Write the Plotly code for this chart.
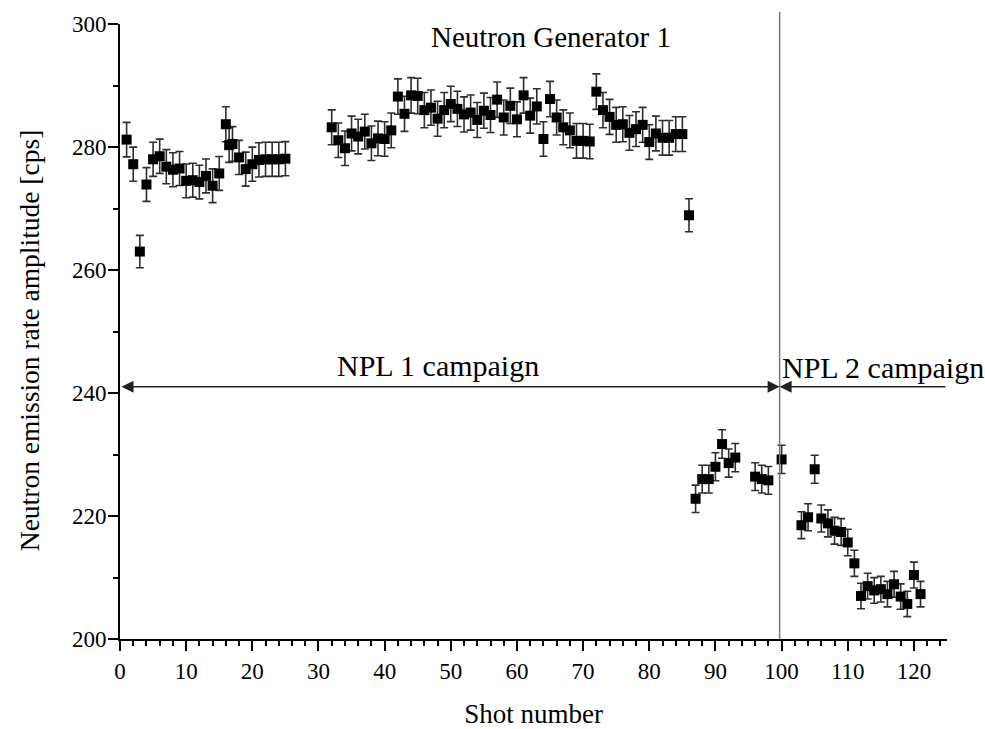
import plotly.graph_objects as go

# Shot numbers and measured amplitudes (cps)
shots = [1, 2, 3, 4, 5, 6, 7, 8, 9, 10, 11, 12, 13, 14, 15, 16, 16.5, 17, 18, 19, 20,
         21, 22, 23, 24, 25,
         32, 33, 34, 35, 36, 37, 38, 39, 40, 41, 42, 43, 44, 45, 46, 47, 48, 49, 50,
         51, 52, 53, 54, 55, 56, 57, 58, 59, 60, 61, 62, 63, 64, 65, 66, 67, 68, 69, 70,
         71, 72, 73, 74, 75, 76, 77, 78, 79, 80, 81, 82, 83, 84, 85, 86,
         87, 88, 89, 90, 91, 92, 93, 96, 97, 98, 100,
         103, 104, 105, 106, 107, 108, 109, 110, 111, 112, 113, 114, 115, 116, 117, 118,
         119, 120, 121]
amplitude = [281.2, 277.2, 263.0, 273.9, 278.0, 278.5, 276.8, 276.3, 276.5, 274.5, 274.6,
             274.3, 275.3, 273.7, 275.7, 283.7, 280.3, 280.5, 278.3, 276.4, 277.2,
             277.9, 278.0, 278.0, 278.0, 278.1,
             283.2, 281.1, 279.8, 282.2, 281.7, 282.5, 280.6, 281.4, 281.3, 282.7, 288.2,
             285.4, 288.4, 288.3, 286.0, 286.4, 284.6, 286.0, 287.0,
             286.2, 285.3, 285.6, 284.4, 285.9, 285.2, 287.7, 284.8, 286.7, 284.5, 288.4,
             285.1, 286.6, 281.3, 287.8, 284.8, 283.2, 282.7, 281.0, 281.0,
             280.9, 289.0, 286.0, 284.9, 283.6, 283.7, 282.3, 282.9, 283.6, 280.8, 282.2,
             281.5, 281.5, 282.1, 282.1, 268.9,
             222.8, 226.0, 226.0, 228.0, 231.7, 228.6, 229.5, 226.4, 226.0, 225.8, 229.2,
             218.5, 219.8, 227.6, 219.6, 218.8, 217.6, 217.4, 215.7, 212.3, 207.0, 208.6,
             207.9, 208.1, 207.3, 208.9, 206.9, 205.7, 210.4, 207.3]
error_percent = 1.0

campaign_boundary = 99.7
x_range = [0, 125]
y_range = [200, 300]
arrow_y = 241

title_text = "Neutron Generator 1"
npl1_text = "NPL 1 campaign"
npl2_text = "NPL 2 campaign"
x_title = "Shot number"
y_title = "Neutron emission rate amplitude [cps]"

FONT = "Liberation Serif, Times New Roman, serif"

fig = go.Figure()
fig.add_trace(go.Scatter(
    x=shots, y=amplitude, mode="markers",
    marker=dict(symbol="square", size=10, color="black"),
    error_y=dict(type="percent", value=error_percent, color="#2e2e2e",
                 thickness=1.6, width=4),
    showlegend=False, cliponaxis=False,
))

fig.add_shape(type="line", xref="x", yref="paper",
              x0=campaign_boundary, x1=campaign_boundary, y0=0, y1=1.02,
              line=dict(color="#7a7a7a", width=1.5))

# arrows
fig.add_annotation(x=campaign_boundary, y=arrow_y, ax=x_range[0], ay=arrow_y,
                   xref="x", yref="y", axref="x", ayref="y", text="",
                   showarrow=True, arrowhead=2, arrowside="end+start",
                   arrowsize=1.6, arrowwidth=1.5, arrowcolor="#222222",
                   standoff=0, startstandoff=0)
fig.add_annotation(x=campaign_boundary, y=arrow_y, ax=x_range[1], ay=arrow_y,
                   xref="x", yref="y", axref="x", ayref="y", text="",
                   showarrow=True, arrowhead=2, arrowside="end",
                   arrowsize=1.6, arrowwidth=1.5, arrowcolor="#222222",
                   standoff=0)

fig.add_annotation(x=65.2, y=297.9, xref="x", yref="y", text=title_text,
                   showarrow=False, font=dict(family=FONT, size=29, color="black"))
fig.add_annotation(x=48.1, y=244.4, xref="x", yref="y", text=npl1_text,
                   showarrow=False, font=dict(family=FONT, size=30, color="black"))
fig.add_annotation(x=115.4, y=244.2, xref="x", yref="y", text=npl2_text,
                   showarrow=False, font=dict(family=FONT, size=30, color="black"))

# y-axis title as rotated text
fig.add_annotation(x=0, y=248.5, xref="paper", yref="y", xshift=-108,
                   text=y_title, textangle=-90, showarrow=False,
                   font=dict(family=FONT, size=27.5, color="black"))

axis_common = dict(
    showline=True, linecolor="black", linewidth=2, mirror=False,
    showgrid=False, zeroline=False, ticks="outside", ticklen=10, tickwidth=2,
    tickcolor="black", tickfont=dict(family=FONT, size=23, color="black"),
    automargin=False,
)

fig.update_xaxes(range=x_range, dtick=10, tick0=0,
                 minor=dict(ticks="outside", ticklen=5, dtick=2, tickwidth=1.5,
                            tickcolor="black"),
                 title=dict(text=x_title, font=dict(family=FONT, size=27, color="black"),
                            standoff=24),
                 **axis_common)
fig.update_yaxes(range=y_range, dtick=20, tick0=200,
                 minor=dict(ticks="outside", ticklen=5, dtick=10, tickwidth=1.5,
                            tickcolor="black"),
                 ticklabelstandoff=-3,
                 **axis_common)

fig.update_layout(
    width=985, height=729,
    margin=dict(l=120, r=38, t=24, b=90),
    plot_bgcolor="white", paper_bgcolor="white",
    font=dict(family=FONT, color="black"),
)

fig.write_html("out.html")
